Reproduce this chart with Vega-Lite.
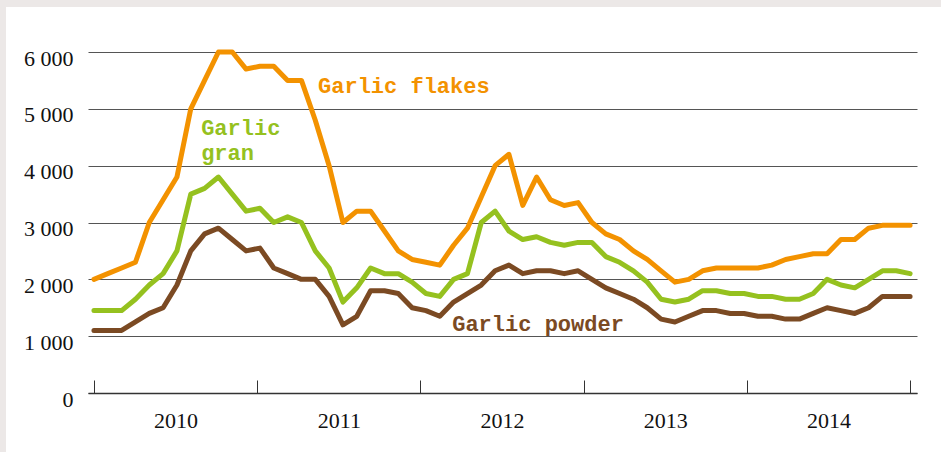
{
  "$schema": "https://vega.github.io/schema/vega-lite/v6.json",
  "width": 829,
  "height": 341,
  "autosize": {"type": "none"},
  "padding": {"left": 88, "top": 52, "right": 24, "bottom": 59},
  "background": "white",
  "config": {"view": {"stroke": null}, "font": "Liberation Serif"},
  "datasets": {
    "prices": [
      {"m":0,"product":"Garlic flakes","price":2000},{"m":1,"product":"Garlic flakes","price":2100},{"m":2,"product":"Garlic flakes","price":2200},{"m":3,"product":"Garlic flakes","price":2300},{"m":4,"product":"Garlic flakes","price":3000},{"m":5,"product":"Garlic flakes","price":3400},{"m":6,"product":"Garlic flakes","price":3800},{"m":7,"product":"Garlic flakes","price":5000},{"m":8,"product":"Garlic flakes","price":5500},{"m":9,"product":"Garlic flakes","price":6000},{"m":10,"product":"Garlic flakes","price":6000},{"m":11,"product":"Garlic flakes","price":5700},{"m":12,"product":"Garlic flakes","price":5750},{"m":13,"product":"Garlic flakes","price":5750},{"m":14,"product":"Garlic flakes","price":5500},{"m":15,"product":"Garlic flakes","price":5500},{"m":16,"product":"Garlic flakes","price":4800},{"m":17,"product":"Garlic flakes","price":4000},{"m":18,"product":"Garlic flakes","price":3000},{"m":19,"product":"Garlic flakes","price":3200},{"m":20,"product":"Garlic flakes","price":3200},{"m":21,"product":"Garlic flakes","price":2850},{"m":22,"product":"Garlic flakes","price":2500},{"m":23,"product":"Garlic flakes","price":2350},{"m":24,"product":"Garlic flakes","price":2300},{"m":25,"product":"Garlic flakes","price":2250},{"m":26,"product":"Garlic flakes","price":2600},{"m":27,"product":"Garlic flakes","price":2900},{"m":28,"product":"Garlic flakes","price":3450},{"m":29,"product":"Garlic flakes","price":4000},{"m":30,"product":"Garlic flakes","price":4200},{"m":31,"product":"Garlic flakes","price":3300},{"m":32,"product":"Garlic flakes","price":3800},{"m":33,"product":"Garlic flakes","price":3400},{"m":34,"product":"Garlic flakes","price":3300},{"m":35,"product":"Garlic flakes","price":3350},{"m":36,"product":"Garlic flakes","price":3000},{"m":37,"product":"Garlic flakes","price":2800},{"m":38,"product":"Garlic flakes","price":2700},{"m":39,"product":"Garlic flakes","price":2500},{"m":40,"product":"Garlic flakes","price":2350},{"m":41,"product":"Garlic flakes","price":2150},{"m":42,"product":"Garlic flakes","price":1950},{"m":43,"product":"Garlic flakes","price":2000},{"m":44,"product":"Garlic flakes","price":2150},{"m":45,"product":"Garlic flakes","price":2200},{"m":46,"product":"Garlic flakes","price":2200},{"m":47,"product":"Garlic flakes","price":2200},{"m":48,"product":"Garlic flakes","price":2200},{"m":49,"product":"Garlic flakes","price":2250},{"m":50,"product":"Garlic flakes","price":2350},{"m":51,"product":"Garlic flakes","price":2400},{"m":52,"product":"Garlic flakes","price":2450},{"m":53,"product":"Garlic flakes","price":2450},{"m":54,"product":"Garlic flakes","price":2700},{"m":55,"product":"Garlic flakes","price":2700},{"m":56,"product":"Garlic flakes","price":2900},{"m":57,"product":"Garlic flakes","price":2950},{"m":58,"product":"Garlic flakes","price":2950},{"m":59,"product":"Garlic flakes","price":2950},
      {"m":0,"product":"Garlic gran","price":1450},{"m":1,"product":"Garlic gran","price":1450},{"m":2,"product":"Garlic gran","price":1450},{"m":3,"product":"Garlic gran","price":1650},{"m":4,"product":"Garlic gran","price":1900},{"m":5,"product":"Garlic gran","price":2100},{"m":6,"product":"Garlic gran","price":2500},{"m":7,"product":"Garlic gran","price":3500},{"m":8,"product":"Garlic gran","price":3600},{"m":9,"product":"Garlic gran","price":3800},{"m":10,"product":"Garlic gran","price":3500},{"m":11,"product":"Garlic gran","price":3200},{"m":12,"product":"Garlic gran","price":3250},{"m":13,"product":"Garlic gran","price":3000},{"m":14,"product":"Garlic gran","price":3100},{"m":15,"product":"Garlic gran","price":3000},{"m":16,"product":"Garlic gran","price":2500},{"m":17,"product":"Garlic gran","price":2200},{"m":18,"product":"Garlic gran","price":1600},{"m":19,"product":"Garlic gran","price":1850},{"m":20,"product":"Garlic gran","price":2200},{"m":21,"product":"Garlic gran","price":2100},{"m":22,"product":"Garlic gran","price":2100},{"m":23,"product":"Garlic gran","price":1950},{"m":24,"product":"Garlic gran","price":1750},{"m":25,"product":"Garlic gran","price":1700},{"m":26,"product":"Garlic gran","price":2000},{"m":27,"product":"Garlic gran","price":2100},{"m":28,"product":"Garlic gran","price":3000},{"m":29,"product":"Garlic gran","price":3200},{"m":30,"product":"Garlic gran","price":2850},{"m":31,"product":"Garlic gran","price":2700},{"m":32,"product":"Garlic gran","price":2750},{"m":33,"product":"Garlic gran","price":2650},{"m":34,"product":"Garlic gran","price":2600},{"m":35,"product":"Garlic gran","price":2650},{"m":36,"product":"Garlic gran","price":2650},{"m":37,"product":"Garlic gran","price":2400},{"m":38,"product":"Garlic gran","price":2300},{"m":39,"product":"Garlic gran","price":2150},{"m":40,"product":"Garlic gran","price":1950},{"m":41,"product":"Garlic gran","price":1650},{"m":42,"product":"Garlic gran","price":1600},{"m":43,"product":"Garlic gran","price":1650},{"m":44,"product":"Garlic gran","price":1800},{"m":45,"product":"Garlic gran","price":1800},{"m":46,"product":"Garlic gran","price":1750},{"m":47,"product":"Garlic gran","price":1750},{"m":48,"product":"Garlic gran","price":1700},{"m":49,"product":"Garlic gran","price":1700},{"m":50,"product":"Garlic gran","price":1650},{"m":51,"product":"Garlic gran","price":1650},{"m":52,"product":"Garlic gran","price":1750},{"m":53,"product":"Garlic gran","price":2000},{"m":54,"product":"Garlic gran","price":1900},{"m":55,"product":"Garlic gran","price":1850},{"m":56,"product":"Garlic gran","price":2000},{"m":57,"product":"Garlic gran","price":2150},{"m":58,"product":"Garlic gran","price":2150},{"m":59,"product":"Garlic gran","price":2100},
      {"m":0,"product":"Garlic powder","price":1100},{"m":1,"product":"Garlic powder","price":1100},{"m":2,"product":"Garlic powder","price":1100},{"m":3,"product":"Garlic powder","price":1250},{"m":4,"product":"Garlic powder","price":1400},{"m":5,"product":"Garlic powder","price":1500},{"m":6,"product":"Garlic powder","price":1900},{"m":7,"product":"Garlic powder","price":2500},{"m":8,"product":"Garlic powder","price":2800},{"m":9,"product":"Garlic powder","price":2900},{"m":10,"product":"Garlic powder","price":2700},{"m":11,"product":"Garlic powder","price":2500},{"m":12,"product":"Garlic powder","price":2550},{"m":13,"product":"Garlic powder","price":2200},{"m":14,"product":"Garlic powder","price":2100},{"m":15,"product":"Garlic powder","price":2000},{"m":16,"product":"Garlic powder","price":2000},{"m":17,"product":"Garlic powder","price":1700},{"m":18,"product":"Garlic powder","price":1200},{"m":19,"product":"Garlic powder","price":1350},{"m":20,"product":"Garlic powder","price":1800},{"m":21,"product":"Garlic powder","price":1800},{"m":22,"product":"Garlic powder","price":1750},{"m":23,"product":"Garlic powder","price":1500},{"m":24,"product":"Garlic powder","price":1450},{"m":25,"product":"Garlic powder","price":1350},{"m":26,"product":"Garlic powder","price":1600},{"m":27,"product":"Garlic powder","price":1750},{"m":28,"product":"Garlic powder","price":1900},{"m":29,"product":"Garlic powder","price":2150},{"m":30,"product":"Garlic powder","price":2250},{"m":31,"product":"Garlic powder","price":2100},{"m":32,"product":"Garlic powder","price":2150},{"m":33,"product":"Garlic powder","price":2150},{"m":34,"product":"Garlic powder","price":2100},{"m":35,"product":"Garlic powder","price":2150},{"m":36,"product":"Garlic powder","price":2000},{"m":37,"product":"Garlic powder","price":1850},{"m":38,"product":"Garlic powder","price":1750},{"m":39,"product":"Garlic powder","price":1650},{"m":40,"product":"Garlic powder","price":1500},{"m":41,"product":"Garlic powder","price":1300},{"m":42,"product":"Garlic powder","price":1250},{"m":43,"product":"Garlic powder","price":1350},{"m":44,"product":"Garlic powder","price":1450},{"m":45,"product":"Garlic powder","price":1450},{"m":46,"product":"Garlic powder","price":1400},{"m":47,"product":"Garlic powder","price":1400},{"m":48,"product":"Garlic powder","price":1350},{"m":49,"product":"Garlic powder","price":1350},{"m":50,"product":"Garlic powder","price":1300},{"m":51,"product":"Garlic powder","price":1300},{"m":52,"product":"Garlic powder","price":1400},{"m":53,"product":"Garlic powder","price":1500},{"m":54,"product":"Garlic powder","price":1450},{"m":55,"product":"Garlic powder","price":1400},{"m":56,"product":"Garlic powder","price":1500},{"m":57,"product":"Garlic powder","price":1700},{"m":58,"product":"Garlic powder","price":1700},{"m":59,"product":"Garlic powder","price":1700}
    ],
    "labels": [
      {"m": 16.2, "price": 5400, "product": "Garlic flakes", "text": "Garlic flakes"},
      {"m": 7.75, "price": 4660, "product": "Garlic gran", "text": "Garlic\ngran"},
      {"m": 25.9, "price": 1215, "product": "Garlic powder", "text": "Garlic powder"}
    ]
  },
  "layer": [
    {
      "data": {"values": [{}]},
      "mark": {"type": "rect", "color": "#ece8e7"},
      "encoding": {
        "x": {"datum": -9, "type": "quantitative"},
        "x2": {"datum": -6.36},
        "y": {"datum": -3000, "type": "quantitative"},
        "y2": {"datum": 9000}
      }
    },
    {
      "data": {"values": [{}]},
      "mark": {"type": "rect", "color": "#ece8e7"},
      "encoding": {
        "x": {"datum": -9, "type": "quantitative"},
        "x2": {"datum": 70},
        "y": {"datum": 6792, "type": "quantitative"},
        "y2": {"datum": 9000}
      }
    },
    {
      "data": {"name": "prices"},
      "mark": {"type": "line", "strokeWidth": 5, "strokeCap": "round", "strokeJoin": "round"},
      "encoding": {
        "x": {
          "field": "m", "type": "quantitative",
          "scale": {"domain": [-0.43, 59.5], "nice": false, "zero": false},
          "axis": {
            "title": null,
            "values": [0, 11.8, 23.6, 35.4, 47.2, 59, 5.9, 17.7, 29.5, 41.3, 53.1],
            "labelExpr": "datum.value == 5.9 ? '2010' : datum.value == 17.7 ? '2011' : datum.value == 29.5 ? '2012' : datum.value == 41.3 ? '2013' : datum.value == 53.1 ? '2014' : ''",
            "grid": false,
            "domainColor": "#333333",
            "domainWidth": 1.5,
            "tickColor": "#333333",
            "tickWidth": 1,
            "tickSize": -13,
            "tickOpacity": {"condition": {"test": "indexof([5.9, 17.7, 29.5, 41.3, 53.1], datum.value) >= 0", "value": 0}, "value": 1},
            "labelPadding": 30,
            "labelFont": "Liberation Serif",
            "labelFontSize": 22,
            "labelColor": "#111111",
            "labelFlush": false,
            "labelOverlap": false,
            "labelBound": false
          }
        },
        "y": {
          "field": "price", "type": "quantitative",
          "scale": {"domain": [0, 6000], "nice": false},
          "axis": {
            "title": null,
            "values": [0, 1000, 2000, 3000, 4000, 5000, 6000],
            "labelExpr": "datum.value == 0 ? '0' : (datum.value / 1000) + ' 000'",
            "domain": false,
            "ticks": false,
            "grid": true,
            "gridColor": "#555555",
            "gridWidth": 1,
            "labelPadding": 15,
            "labelOffset": 6,
            "labelFont": "Liberation Serif",
            "labelFontSize": 22,
            "labelColor": "#111111"
          }
        },
        "color": {
          "field": "product", "type": "nominal",
          "scale": {"domain": ["Garlic flakes", "Garlic gran", "Garlic powder"], "range": ["#f39200", "#95c11f", "#7b4a23"]},
          "legend": null
        }
      }
    },
    {
      "data": {"name": "labels"},
      "mark": {"type": "text", "align": "left", "baseline": "middle", "font": "Liberation Mono", "fontSize": 22, "fontWeight": "bold", "lineBreak": "\n", "lineHeight": 25},
      "encoding": {
        "x": {"field": "m", "type": "quantitative"},
        "y": {"field": "price", "type": "quantitative"},
        "text": {"field": "text"},
        "color": {"field": "product", "type": "nominal", "legend": null}
      }
    }
  ]
}
